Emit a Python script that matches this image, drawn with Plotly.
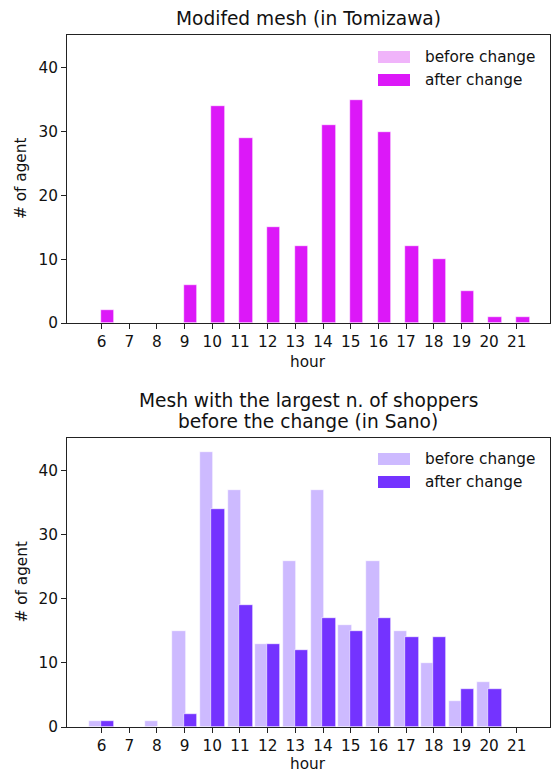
import plotly.graph_objects as go
from plotly.subplots import make_subplots

# Hourly counts of agents
hours = list(range(6, 22))
tick_labels = [str(h) for h in hours]

tomizawa_before = [0, 0, 0, 0, 0, 0, 0, 0, 0, 0, 0, 0, 0, 0, 0, 0]
tomizawa_after = [2, 0, 0, 6, 34, 29, 15, 12, 31, 35, 30, 12, 10, 5, 1, 1]

sano_before = [1, 0, 1, 15, 43, 37, 13, 26, 37, 16, 26, 15, 10, 4, 7, 0]
sano_after = [1, 0, 0, 2, 34, 19, 13, 12, 17, 15, 17, 14, 14, 6, 6, 0]

series_names = ["before change", "after change"]
top_colors = ["#f0b4fa", "#dc18f8"]
bottom_colors = ["#cdbaff", "#7433ff"]

top_title = "Modifed mesh (in Tomizawa)"
bottom_title_lines = ["Mesh with the largest n. of shoppers",
                      "before the change (in Sano)"]

W, H = 555, 771
L, R, T, B = 67, 5, 35, 44
plot_w = W - L - R
plot_h = H - T - B


def px_x(x):
    return (x - L) / plot_w


def px_y(y):
    return (H - B - y) / plot_h


top_dom = [px_y(323), px_y(35)]
bot_dom = [px_y(727), px_y(438)]

fig = make_subplots(rows=2, cols=1)
FONT = "DejaVu Sans"
fs = 15.3
fs_title = 18.6

panels = [
    (1, tomizawa_before, tomizawa_after, top_colors),
    (2, sano_before, sano_after, bottom_colors),
]
for row, before, after, colors in panels:
    for vals, name, color, off in [(before, series_names[0], colors[0], -0.45),
                                   (after, series_names[1], colors[1], -0.03)]:
        fig.add_trace(go.Bar(
            x=hours, y=vals, name=name, offset=off, width=0.49,
            marker=dict(color=color, line=dict(color="white", width=0.6)),
            showlegend=False,
        ), row=row, col=1)

axis_common = dict(showline=True, mirror=True, linecolor="#222", linewidth=1.1,
                   ticks="outside", ticklen=5, tickwidth=1.1, tickcolor="#222",
                   showgrid=False, zeroline=False,
                   tickfont=dict(family=FONT, size=fs, color="#111"))

for i, dom in [(1, top_dom), (2, bot_dom)]:
    fig.update_xaxes(row=i, col=1, domain=[0, 1], range=[4.75, 22.2],
                     tickmode="array", tickvals=hours, ticktext=tick_labels,
                     **axis_common)
    fig.update_yaxes(row=i, col=1, domain=dom, range=[0, 45.15],
                     tickmode="array", tickvals=[0, 10, 20, 30, 40],
                     **axis_common)

ann = []
shapes = []


def title_text(text, bottom_px):
    return dict(text=text, x=px_x(308), y=px_y(bottom_px), xref="paper", yref="paper",
                xanchor="center", yanchor="bottom", showarrow=False,
                font=dict(family=FONT, size=fs_title, color="#111"))


# titles
ann.append(title_text(top_title, 31))
ann.append(title_text(bottom_title_lines[0], 413))
ann.append(title_text(bottom_title_lines[1], 434))

# axis labels
for ymid, xlab_y in [((35 + 323) / 2, 362), ((438 + 727) / 2, 764)]:
    ann.append(dict(text="# of agent", x=px_x(21), y=px_y(ymid), xref="paper", yref="paper",
                    xanchor="center", yanchor="middle", textangle=-90, showarrow=False,
                    font=dict(family=FONT, size=fs, color="#111")))
    ann.append(dict(text="hour", x=px_x(308), y=px_y(xlab_y), xref="paper", yref="paper",
                    xanchor="center", yanchor="middle", showarrow=False,
                    font=dict(family=FONT, size=fs, color="#111")))

# legends
for colors, y0 in [(top_colors, 51), (bottom_colors, 453)]:
    for k, (name, color) in enumerate(zip(series_names, colors)):
        yt = y0 + k * 23
        shapes.append(dict(type="rect", xref="paper", yref="paper",
                           x0=px_x(378), x1=px_x(410), y0=px_y(yt), y1=px_y(yt + 12),
                           fillcolor=color, line=dict(width=0)))
        ann.append(dict(text=name, x=px_x(423), y=px_y(yt + 6), xref="paper", yref="paper",
                        xanchor="left", yanchor="middle", showarrow=False,
                        font=dict(family=FONT, size=fs, color="#111")))

fig.update_layout(
    width=W, height=H, margin=dict(l=L, r=R, t=T, b=B),
    barmode="overlay", bargap=0,
    plot_bgcolor="white", paper_bgcolor="white",
    annotations=ann, shapes=shapes,
    font=dict(family=FONT, size=fs, color="#111"),
)

fig.write_html("out.html")
